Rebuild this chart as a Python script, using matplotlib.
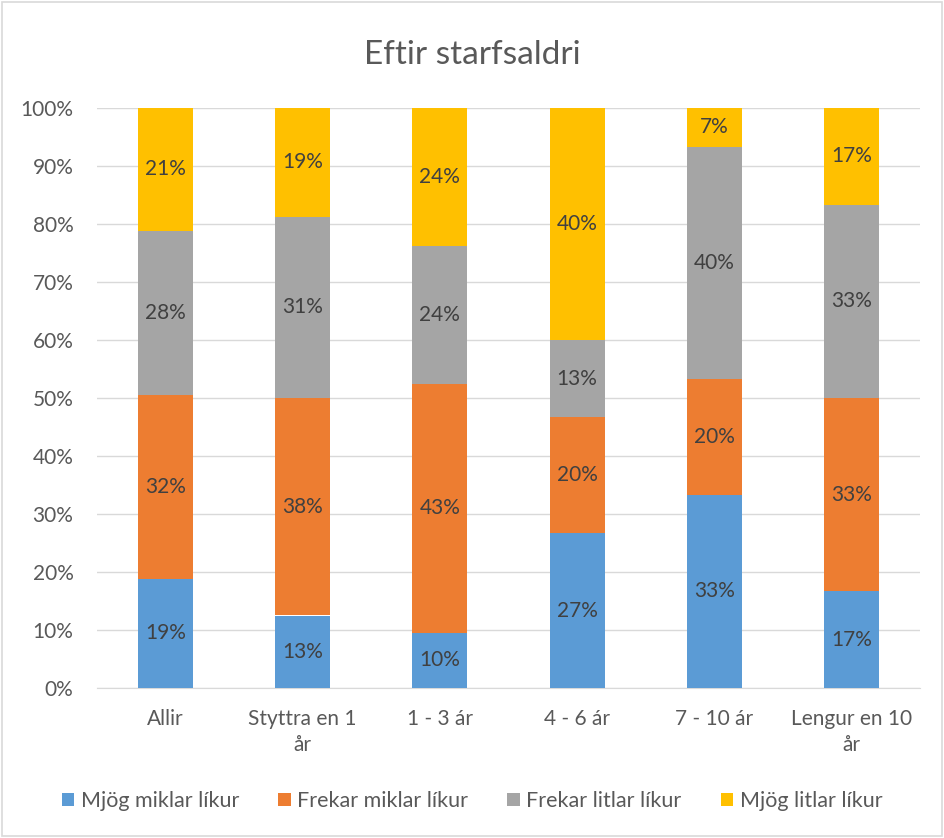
import math
import numpy as np
import matplotlib.pyplot as plt
from matplotlib.patches import Rectangle

plt.rcParams['font.family'] = ['Lato', 'DejaVu Sans']

# data (percent)
categories = ["Allir", "Styttra en 1\når", "1 - 3 ár", "4 - 6 ár", "7 - 10 ár", "Lengur en 10\når"]
series_names = ["Mjög miklar líkur", "Frekar miklar líkur", "Frekar litlar líkur", "Mjög litlar líkur"]
mjog_miklar = [18.8, 12.5, 9.5, 26.7, 33.3, 16.7]
frekar_miklar = [31.7, 37.5, 42.9, 20.0, 20.0, 33.3]
frekar_litlar = [28.3, 31.25, 23.8, 13.3, 40.0, 33.3]
mjog_litlar = [21.2, 18.75, 23.8, 40.0, 6.7, 16.7]
colors = ["#5B9BD5", "#ED7D31", "#A5A5A5", "#FFC000"]

fig = plt.figure(figsize=(9.44, 8.38), dpi=100)
ax = fig.add_axes([97/944, 1 - 688/838, (920 - 97)/944, (688 - 108)/838])

x = np.arange(len(categories))
bottom = np.zeros(len(categories))
for vals, name, col in zip([mjog_miklar, frekar_miklar, frekar_litlar, mjog_litlar], series_names, colors):
    vals = np.array(vals)
    ax.bar(x, vals, 0.4, bottom=bottom, color=col, label=name, zorder=3)
    for xi, b, v in zip(x, bottom, vals):
        ax.text(xi, b + v / 2, f"{math.floor(v + 0.5)}%", ha='center', va='center',
                fontsize=15, color='#404040', zorder=4)
    bottom += vals

ax.set_xlim(-0.5, len(categories) - 0.5)
ax.set_ylim(0, 100)
ax.set_yticks(np.arange(0, 101, 10))
ax.set_yticklabels([f"{v}%" for v in range(0, 101, 10)])
ax.set_xticks(x)
ax.set_xticklabels(categories, multialignment='center', linespacing=1.4)
ax.tick_params(axis='both', length=0, labelsize=15, labelcolor='#595959')
ax.tick_params(axis='y', pad=17)
ax.tick_params(axis='x', pad=15)
ax.grid(axis='y', color='#D9D9D9', linewidth=1, zorder=0)
for s in ['top', 'right', 'left']:
    ax.spines[s].set_visible(False)
ax.spines['bottom'].set_color('#D9D9D9')

fig.text(0.5, 1 - 55/838, "Eftir starfsaldri", ha='center', va='center', fontsize=24, color='#595959')

fig.legend(loc='center', bbox_to_anchor=(0.5, 1 - 801/838), ncol=4, frameon=False,
           fontsize=15.5, labelcolor='#595959', handlelength=0.6, handleheight=0.6,
           handletextpad=0.3, columnspacing=1.8)

fig.patches.append(Rectangle((0.002, 0.002), 0.996, 0.996, transform=fig.transFigure,
                             fill=False, edgecolor='#D9D9D9', linewidth=1.2))

fig.savefig("out.png", dpi=100)
